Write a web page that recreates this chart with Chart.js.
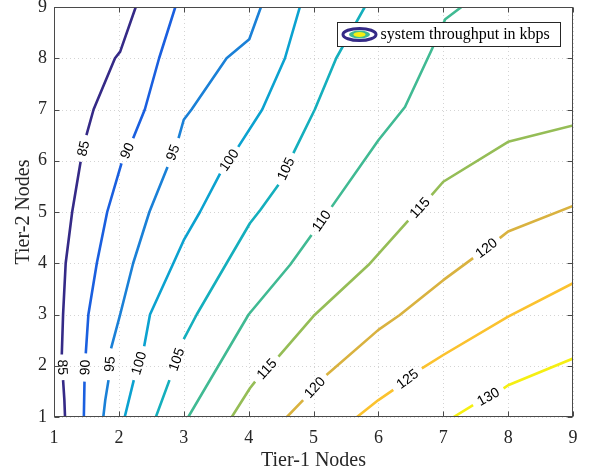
<!DOCTYPE html>
<html><head><meta charset="utf-8">
<script src="https://cdn.jsdelivr.net/npm/chart.js@4/dist/chart.umd.min.js"></script>
<style>html,body{margin:0;padding:0;background:#fff}canvas{display:block}</style>
</head><body>
<canvas id="c" width="589" height="476"></canvas>
<script>
// ---- data ----
const xTicks = [1,2,3,4,5,6,7,8,9];
const yTicks = [1,2,3,4,5,6,7,8,9];
const levels = [85,90,95,100,105,110,115,120,125,130];
const levelColors = ['#352a87','#1a5fdf','#1a80d7','#0ba2d0','#14afbd','#40ba93','#95bd56','#d9b23f','#fbc22e','#f5ef12'];
// contour paths [Tier-1, Tier-2]; null = break where the level label sits
const c85  = [[1.17,1],[1.16,1.33],[1.14,1.72],null,[1.12,2.22],[1.14,3],[1.18,4],[1.28,5],[1.41,5.98],null,[1.50,6.50],[1.61,7],[1.94,8],[2.02,8.13],[2.26,9]];
const c90  = [[1.46,1],[1.47,1.69],null,[1.49,2.24],[1.53,3],[1.66,4],[1.82,5],[2.04,5.95],null,[2.22,6.44],[2.40,7],[2.62,8],[2.87,9]];
const c95  = [[1.76,1],[1.79,1.33],[1.84,1.72],null,[1.88,2.34],[2.02,3],[2.22,4],[2.47,5],[2.75,5.88],null,[2.92,6.44],[3.0,6.80],[3.12,7],[3.66,8],[4.01,8.37],[4.19,9]];
const c100 = [[2.09,1],[2.23,1.72],null,[2.39,2.38],[2.48,3],[2.84,4],[3.0,4.45],[3.25,5],[3.56,5.75],null,[3.84,6.27],[4.21,7],[4.56,8],[4.79,9]];
const c105 = [[2.57,1],[2.78,1.72],null,[3.0,2.52],[3.2,3],[3.66,4],[4.02,4.78],[4.18,5.04],[4.46,5.53],null,[4.69,6.15],[5.02,7],[5.35,8],[5.79,9]];
const c110 = [[3.07,1],[4.0,3],[4.64,3.97],[4.97,4.55],null,[5.28,5.10],[6.0,6.4],[6.41,7.05],[6.82,8.16],[7.03,8.76],[7.28,9]];
const c115 = [[3.74,1],[4.02,1.56],[4.10,1.69],null,[4.46,2.18],[5.0,2.97],[5.85,3.97],[6.46,4.83],null,[6.82,5.33],[7.0,5.59],[8.0,6.37],[9.0,6.69]];
const c120 = [[4.59,1],[4.84,1.33],null,[5.2,1.82],[6.0,2.70],[6.33,2.99],[7.0,3.67],[7.46,4.1],null,[7.87,4.49],[8.0,4.62],[9.0,5.12]];
const c125 = [[5.67,1],[6.0,1.33],[6.23,1.53],null,[6.67,1.95],[7.0,2.21],[8.0,2.96],[9.0,3.61]];
const c130 = [[7.16,1],[7.46,1.23],null,[7.93,1.56],[8.0,1.62],[9.0,2.14]];
const contours = [c85,c90,c95,c100,c105,c110,c115,c120,c125,c130];
const xTitle = 'Tier-1 Nodes';
const yTitle = 'Tier-2 Nodes';
const legendText = 'system throughput in kbps';

// ---- build ----
const serif = '"Liberation Serif","Times New Roman",Times,serif';
const sans = '"Liberation Sans",Arial,Helvetica,sans-serif';
const axisColor = '#262626';

function toPoints(path){
  const out = [];
  path.forEach((p,i)=>{
    if (p === null) out.push({x: path[i-1][0], y: null});
    else out.push({x: p[0], y: p[1]});
  });
  return out;
}

const datasets = contours.map((path,i)=>({
  label: String(levels[i]),
  data: toPoints(path),
  borderColor: levelColors[i],
  backgroundColor: levelColors[i],
  borderWidth: 2.6,
  pointRadius: 0,
  tension: 0,
  spanGaps: false,
  fill: false,
  borderJoinStyle: 'round',
  borderCapStyle: 'butt'
}));

const deco = {
  id: 'deco',
  beforeDatasetsDraw(chart){
    const {ctx, chartArea:a, scales:{x,y}} = chart;
    ctx.save();
    ctx.strokeStyle = '#d4d4d4';
    ctx.lineWidth = 1;
    ctx.setLineDash([1,3]);
    xTicks.forEach(v=>{
      const px = Math.round(x.getPixelForValue(v))+0.5;
      ctx.beginPath(); ctx.moveTo(px,a.top); ctx.lineTo(px,a.bottom); ctx.stroke();
    });
    yTicks.forEach(v=>{
      const py = Math.round(y.getPixelForValue(v))+0.5;
      ctx.beginPath(); ctx.moveTo(a.left,py); ctx.lineTo(a.right,py); ctx.stroke();
    });
    ctx.restore();
  },
  afterDatasetsDraw(chart){
    const {ctx, chartArea:a, scales:{x,y}} = chart;
    // contour level labels at the breaks
    ctx.save();
    ctx.fillStyle = '#000';
    ctx.font = '14px ' + sans;
    ctx.textAlign = 'center';
    ctx.textBaseline = 'middle';
    chart.data.datasets.forEach((ds)=>{
      const pts = ds.data;
      for (let k=1;k<pts.length-1;k++){
        if (pts[k].y !== null) continue;
        const p0 = pts[k-1], p1 = pts[k+1];
        const x0 = x.getPixelForValue(p0.x), y0 = y.getPixelForValue(p0.y);
        const x1 = x.getPixelForValue(p1.x), y1 = y.getPixelForValue(p1.y);
        let ang = Math.atan2(y1-y0, x1-x0);
        if (ang > Math.PI/2) ang -= Math.PI;
        if (ang < -Math.PI/2) ang += Math.PI;
        ctx.save();
        ctx.translate((x0+x1)/2, (y0+y1)/2);
        ctx.rotate(ang);
        ctx.fillText(ds.label, 0, 0.5);
        ctx.restore();
      }
    });
    ctx.restore();

    // box and inward ticks
    ctx.save();
    ctx.strokeStyle = '#4a4a4a';
    ctx.lineWidth = 1;
    const L = Math.round(a.left)+0.5, R = Math.round(a.right)-0.5, T = Math.round(a.top)+0.5, B = Math.round(a.bottom)-0.5;
    ctx.strokeRect(L, T, R-L, B-T);
    const tl = 5;
    ctx.beginPath();
    xTicks.forEach(v=>{
      const px = Math.round(x.getPixelForValue(v))+0.5;
      ctx.moveTo(px,B); ctx.lineTo(px,B-tl);
      ctx.moveTo(px,T); ctx.lineTo(px,T+tl);
    });
    yTicks.forEach(v=>{
      const py = Math.round(y.getPixelForValue(v))+0.5;
      ctx.moveTo(L,py); ctx.lineTo(L+tl,py);
      ctx.moveTo(R,py); ctx.lineTo(R-tl,py);
    });
    ctx.stroke();
    ctx.restore();

    // legend
    ctx.save();
    const bw = 223, bh = 24;
    const bx = Math.round(a.right) - 13 - bw + 0.5, by = Math.round(a.top) + 15 + 0.5;
    ctx.fillStyle = '#fff';
    ctx.fillRect(bx, by, bw, bh);
    ctx.strokeStyle = '#262626';
    ctx.lineWidth = 1;
    ctx.strokeRect(bx, by, bw, bh);
    const cx = bx + 22, cy = by + bh/2;
    ctx.beginPath(); ctx.ellipse(cx, cy, 16.5, 6, 0, 0, Math.PI*2);
    ctx.strokeStyle = levelColors[0]; ctx.lineWidth = 3; ctx.stroke();
    ctx.beginPath(); ctx.ellipse(cx, cy, 10.5, 4, 0, 0, Math.PI*2);
    ctx.fillStyle = levelColors[5]; ctx.fill();
    ctx.beginPath(); ctx.ellipse(cx, cy, 6, 2.5, 0, 0, Math.PI*2);
    ctx.fillStyle = levelColors[9]; ctx.fill();
    ctx.fillStyle = '#000';
    ctx.font = '16px ' + serif;
    ctx.textAlign = 'left';
    ctx.textBaseline = 'middle';
    ctx.fillText(legendText, bx + 43, cy + 0.5);
    ctx.restore();
  }
};

new Chart(document.getElementById('c'), {
  type: 'line',
  data: { datasets },
  options: {
    responsive: false,
    animation: false,
    devicePixelRatio: 1,
    layout: { padding: { top: 7, right: 16, left: 0, bottom: 0 } },
    plugins: { legend: { display: false }, tooltip: { enabled: false } },
    scales: {
      x: {
        type: 'linear', min: 1, max: 9,
        afterBuildTicks: s => { s.ticks = xTicks.map(v=>({value:v})); },
        afterFit: s => { s.height = 59; s.paddingLeft = 0; s.paddingRight = 0; },
        ticks: { autoSkip: false, maxRotation: 0, padding: 10, color: axisColor, font: { family: serif, size: 18 } },
        grid: { display: false, drawTicks: false },
        border: { display: false },
        title: { display: true, text: xTitle, color: axisColor, font: { family: serif, size: 20 }, padding: { top: 0, bottom: 3 } }
      },
      y: {
        type: 'linear', min: 1, max: 9,
        afterBuildTicks: s => { s.ticks = yTicks.map(v=>({value:v})); },
        afterFit: s => { s.width = 54; s.paddingTop = 0; s.paddingBottom = 0; },
        ticks: { autoSkip: false, padding: 7, color: axisColor, font: { family: serif, size: 18 } },
        grid: { display: false, drawTicks: false },
        border: { display: false },
        title: { display: true, text: yTitle, color: axisColor, font: { family: serif, size: 20 }, padding: { top: 12, bottom: 0 } }
      }
    }
  },
  plugins: [deco]
});
</script>
</body></html>
